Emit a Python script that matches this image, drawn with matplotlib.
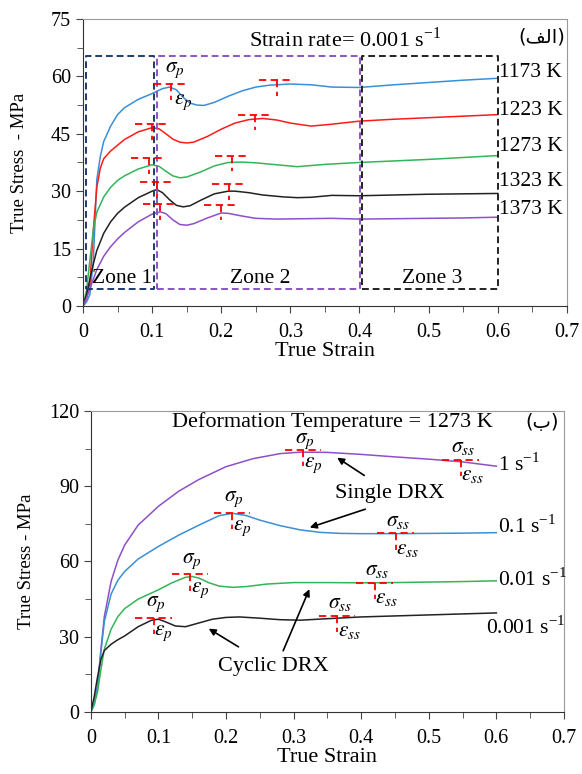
import matplotlib
matplotlib.use("Agg")
from matplotlib import pyplot as plt
from matplotlib.ticker import MultipleLocator

plt.rcParams["font.family"] = ["Liberation Serif", "DejaVu Sans"]
plt.rcParams["mathtext.fontset"] = "stix"

# ---- top panel data: strain rate 0.001 s-1, different temperatures
temps = ["1173 K", "1223 K", "1273 K", "1323 K", "1373 K"]
temp_colors = ["#3a8fd6", "#ff1a1a", "#33b55a", "#222222", "#8f4fc8"]

strain_1173 = [0, 0.005, 0.01, 0.015, 0.02, 0.025, 0.03, 0.04, 0.05, 0.06, 0.08, 0.1, 0.115,
               0.125, 0.135, 0.145, 0.155, 0.165, 0.175, 0.19, 0.21, 0.23, 0.25, 0.27, 0.3,
               0.33, 0.36, 0.4, 0.45, 0.5, 0.55, 0.6]
stress_1173 = [0, 1, 3, 12, 33, 39, 43, 47, 50, 51.8, 54, 55.5, 56.8, 57.2, 56.5, 54.5, 53,
               52.5, 52.4, 53.2, 54.8, 56.2, 57.2, 57.7, 58, 57.8, 57.2, 57.1, 57.8, 58.4, 59,
               59.5]
strain_1223 = [0, 0.005, 0.01, 0.015, 0.02, 0.025, 0.03, 0.04, 0.05, 0.06, 0.08, 0.1, 0.11,
               0.12, 0.13, 0.14, 0.15, 0.16, 0.18, 0.2, 0.22, 0.24, 0.26, 0.28, 0.3, 0.33,
               0.36, 0.4, 0.45, 0.5, 0.55, 0.6]
stress_1223 = [0, 2, 6, 20, 31, 36, 38.5, 40.5, 42, 43.5, 45.5, 46.6, 46.3, 45, 43.6, 42.8,
               42.6, 42.8, 44.3, 46.2, 47.8, 48.7, 49, 48.6, 47.8, 47, 47.5, 48.3, 48.8, 49.2,
               49.6, 50]
strain_1273 = [0, 0.005, 0.01, 0.015, 0.02, 0.03, 0.04, 0.05, 0.06, 0.08, 0.1, 0.11, 0.12,
               0.13, 0.14, 0.15, 0.17, 0.19, 0.21, 0.23, 0.25, 0.28, 0.31, 0.35, 0.4, 0.45,
               0.5, 0.55, 0.6]
stress_1273 = [0, 4, 12, 20, 24.5, 28.5, 31, 32.8, 34, 35.8, 36.9, 36.5, 35.2, 34, 33.5, 33.7,
               35, 36.6, 37.5, 37.6, 37.4, 36.9, 36.4, 37, 37.5, 37.9, 38.3, 38.8, 39.3]
strain_1323 = [0, 0.005, 0.01, 0.015, 0.02, 0.03, 0.04, 0.05, 0.06, 0.08, 0.1, 0.107, 0.115,
               0.125, 0.135, 0.145, 0.155, 0.17, 0.19, 0.21, 0.22, 0.24, 0.26, 0.29, 0.31,
               0.33, 0.36, 0.4, 0.45, 0.5, 0.55, 0.6]
stress_1323 = [0, 3, 7, 11, 14.5, 19, 22, 24.2, 25.8, 28.3, 30, 30.4, 29.6, 27.8, 26.3, 25.9,
               26.2, 27.6, 29.3, 30, 30, 29.6, 29, 28.5, 28.3, 28.4, 28.9, 28.8, 29, 29.2,
               29.3, 29.4]
strain_1373 = [0, 0.005, 0.01, 0.02, 0.03, 0.04, 0.05, 0.06, 0.08, 0.1, 0.112, 0.12, 0.13,
               0.14, 0.15, 0.16, 0.18, 0.2, 0.21, 0.23, 0.25, 0.28, 0.32, 0.36, 0.4, 0.45,
               0.5, 0.55, 0.6]
stress_1373 = [0, 2, 4.5, 9.5, 13, 15.5, 17.5, 19.2, 22, 24, 24.6, 24.1, 22.5, 21.3, 21.1,
               21.5, 23, 24.3, 24.2, 23.5, 22.9, 22.7, 22.8, 22.9, 22.7, 22.8, 22.9, 23.0,
               23.2]
temp_label_y = [61, 51, 41.6, 32.5, 25.1]

# red peak markers (strain, stress) on the top panel
top_peaks_x = [0.127, 0.28, 0.1, 0.249, 0.095, 0.216, 0.107, 0.211, 0.112, 0.2]
top_peaks_y = [58, 59, 47.5, 50, 38.6, 39.3, 32.3, 31.8, 26.6, 26.5]

# zones (strain start, strain end)
zone_x0 = [0.004, 0.107, 0.404]
zone_x1 = [0.102, 0.401, 0.6]
zone_names = ["Zone 1", "Zone 2", "Zone 3"]
zone_colors = ["#1f3a6e", "#8a55c8", "#222222"]

# ---- bottom panel data: 1273 K, different strain rates
rates = ["1 s$^{\\mathregular{-1}}$", "0.1 s$^{\\mathregular{-1}}$",
         "0.01 s$^{\\mathregular{-1}}$", "0.001 s$^{\\mathregular{-1}}$"]
rate_colors = ["#8f4fc8", "#3a8fd6", "#33b55a", "#222222"]

strain_r1 = [0, 0.005, 0.01, 0.015, 0.02, 0.03, 0.04, 0.05, 0.07, 0.1, 0.13, 0.16, 0.2,
             0.24, 0.28, 0.31, 0.35, 0.4, 0.45, 0.5, 0.55, 0.6]
stress_r1 = [0, 3, 10, 25, 38, 52, 60.5, 66.5, 74.5, 82, 88, 92.7, 97.8, 101, 103, 103.6,
             103.5, 102.7, 101.7, 100.8, 99.7, 98]
strain_r01 = [0, 0.005, 0.01, 0.015, 0.02, 0.03, 0.04, 0.05, 0.07, 0.1, 0.13, 0.16, 0.19,
              0.21, 0.23, 0.25, 0.28, 0.31, 0.34, 0.37, 0.4, 0.45, 0.5, 0.55, 0.6]
stress_r01 = [0, 3, 10, 24, 36, 47, 52.5, 56, 61, 66, 70.5, 74.5, 78.3, 79.2, 78.3, 76.5,
              74.3, 72.6, 71.6, 71.2, 71.1, 71.1, 71.2, 71.3, 71.5]
strain_r001 = [0, 0.005, 0.01, 0.015, 0.02, 0.03, 0.04, 0.05, 0.07, 0.1, 0.12, 0.14, 0.15,
               0.16, 0.175, 0.19, 0.21, 0.23, 0.26, 0.3, 0.35, 0.4, 0.45, 0.5, 0.55, 0.6]
stress_r001 = [0, 3, 8, 17, 25, 33, 38, 41.2, 45, 48.7, 51.5, 53.7, 54, 53.4, 51.5, 50.2,
               49.7, 50, 51, 51.6, 51.6, 51.5, 51.6, 51.8, 52.0, 52.3]
strain_r0001 = [0, 0.005, 0.01, 0.015, 0.02, 0.03, 0.04, 0.05, 0.07, 0.09, 0.1, 0.11, 0.125,
                0.14, 0.16, 0.18, 0.2, 0.22, 0.25, 0.28, 0.31, 0.35, 0.4, 0.45, 0.5, 0.55,
                0.6]
stress_r0001 = [0, 6, 14, 21, 24.5, 27, 28.8, 30.3, 34, 36.6, 37, 36, 34.3, 34, 35.5, 37,
                37.7, 37.9, 37.4, 36.8, 36.6, 37.2, 37.9, 38.3, 38.7, 39.1, 39.5]
rate_label_x = [0.602, 0.602, 0.602, 0.584]
rate_label_y = [98.5, 73.9, 52.9, 33.5]

# peak and steady state markers on the bottom panel
peak_x = [0.314, 0.209, 0.147, 0.093]
peak_y = [104.5, 79.5, 54.9, 37.6]
ss_x = [0.547, 0.451, 0.42, 0.364]
ss_y = [100.5, 71.2, 51.6, 38.3]

FS = 15.5


def peak_mark(ax, x, y, half, drop):
    ax.plot([x - half, x + half], [y, y], color="red", lw=1.3, ls=(0, (4, 2.5)), zorder=4)
    ax.plot([x, x], [y, y - drop], color="red", lw=1.3, ls=(0, (4, 2.5)), zorder=4)


def style_axes(ax, ymax, ystep, ylabel, ylab_x, xlab_y):
    ax.set_xlim(0, 0.7)
    ax.set_ylim(0, ymax)
    ax.xaxis.set_major_locator(MultipleLocator(0.1))
    ax.xaxis.set_minor_locator(MultipleLocator(0.05))
    ax.yaxis.set_major_locator(MultipleLocator(ystep))
    ax.yaxis.set_minor_locator(MultipleLocator(ystep / 2))
    ax.xaxis.set_major_formatter(plt.FuncFormatter(lambda v, p: "0" if v == 0 else "%g" % v))
    ax.tick_params(which="both", direction="out", labelsize=14.5, color="#444444")
    ax.tick_params(which="major", length=5)
    ax.tick_params(which="minor", length=4)
    ax.tick_params(axis="x", pad=7)
    ax.spines["left"].set_color("#333333")
    ax.spines["bottom"].set_color("#333333")
    ax.spines["top"].set_color("#999999")
    ax.spines["right"].set_color("#999999")
    ax.set_xlabel("True Strain", fontsize=16)
    ax.set_ylabel(ylabel, fontsize=13.5)
    ax.yaxis.set_label_coords(ylab_x, 0.5)
    ax.xaxis.set_label_coords(0.5, xlab_y)


fig = plt.figure(figsize=(5.82, 7.74), dpi=100)
ax1 = fig.add_axes([0.1426, 0.6047, 0.8314, 0.3708])
ax2 = fig.add_axes([0.1560, 0.0801, 0.8130, 0.3889])

# ---------------- top panel
top_strains = [strain_1173, strain_1223, strain_1273, strain_1323, strain_1373]
top_stresses = [stress_1173, stress_1223, stress_1273, stress_1323, stress_1373]
for s, t, c, name, ly in zip(top_strains, top_stresses, temp_colors, temps, temp_label_y):
    ax1.plot(s, t, color=c, lw=1.1)
    ax1.text(0.602, ly, name, fontsize=FS, va="center", ha="left")

for x0, x1, c, name in zip(zone_x0, zone_x1, zone_colors, zone_names):
    ax1.plot([x0, x1, x1, x0, x0], [4.4, 4.4, 65.4, 65.4, 4.4], color=c, lw=1.4,
             ls=(0, (3.5, 2)), zorder=3)
    ax1.text((x0 + x1) / 2 + 0.003, 7.2, name, fontsize=FS, ha="center", va="center")

for x, y in zip(top_peaks_x, top_peaks_y):
    peak_mark(ax1, x, y, 0.025, 4.1)
ax1.text(0.133, 61.5, "$\\sigma_p$", fontsize=FS, ha="center", va="center")
ax1.text(0.131, 53.3, "$\\varepsilon_p$", fontsize=FS, ha="left", va="center")

ax1.text(0.38, 69.6, "Strain rate= 0.001 s$^{\\mathregular{-1}}$", fontsize=16,
         ha="center", va="center")
ax1.text(0.697, 70.3, "(\ufed2\ufedf\ufe8d)", fontsize=14, ha="right", va="center",
         family=["DejaVu Sans"])
style_axes(ax1, 75, 15, "True Stress  - MPa", -0.113, -0.125)

# ---------------- bottom panel
bot_strains = [strain_r1, strain_r01, strain_r001, strain_r0001]
bot_stresses = [stress_r1, stress_r01, stress_r001, stress_r0001]
for s, t, c, name, lx, ly in zip(bot_strains, bot_stresses, rate_colors, rates,
                                 rate_label_x, rate_label_y):
    ax2.plot(s, t, color=c, lw=1.1)
    ax2.text(lx, ly, name, fontsize=FS, va="center", ha="left")

for x, y in zip(peak_x, peak_y):
    peak_mark(ax2, x, y, 0.027, 6.5)
    ax2.text(x + 0.003, min(y + 5.3, 108), "$\\sigma_p$", fontsize=FS, ha="center",
             va="center")
    ax2.text(x + 0.001, y - 6.3, "$\\varepsilon_p$", fontsize=FS, ha="left", va="center")
for x, y in zip(ss_x, ss_y):
    peak_mark(ax2, x, y, 0.027, 6.5)
    ax2.text(x + 0.004, y + 4.8, "$\\sigma_{ss}$", fontsize=FS, ha="center", va="center")
    ax2.text(x + 0.001, y - 6.3, "$\\varepsilon_{ss}$", fontsize=FS, ha="left", va="center")

ax2.text(0.357, 115.6, "Deformation Temperature = 1273 K", fontsize=16, ha="center",
         va="center")
ax2.text(0.693, 115.3, "(\u0628)", fontsize=14, ha="right", va="center",
         family=["DejaVu Sans"])

arrow = dict(arrowstyle="-|>", color="black", lw=1.2, mutation_scale=10)
ax2.text(0.442, 87.3, "Single DRX", fontsize=16, ha="center", va="center")
ax2.annotate("", xy=(0.361, 102), xytext=(0.408, 93.7), arrowprops=arrow)
ax2.annotate("", xy=(0.32, 73.2), xytext=(0.41, 81.2), arrowprops=arrow)
ax2.text(0.27, 18, "Cyclic DRX", fontsize=16, ha="center", va="center")
ax2.annotate("", xy=(0.171, 33.8), xytext=(0.222, 25.4), arrowprops=arrow)
ax2.annotate("", xy=(0.325, 50), xytext=(0.283, 23.4), arrowprops=arrow)
style_axes(ax2, 120, 30, "True Stress - MPa", -0.118, -0.12)

fig.savefig("out.png", dpi=100)
